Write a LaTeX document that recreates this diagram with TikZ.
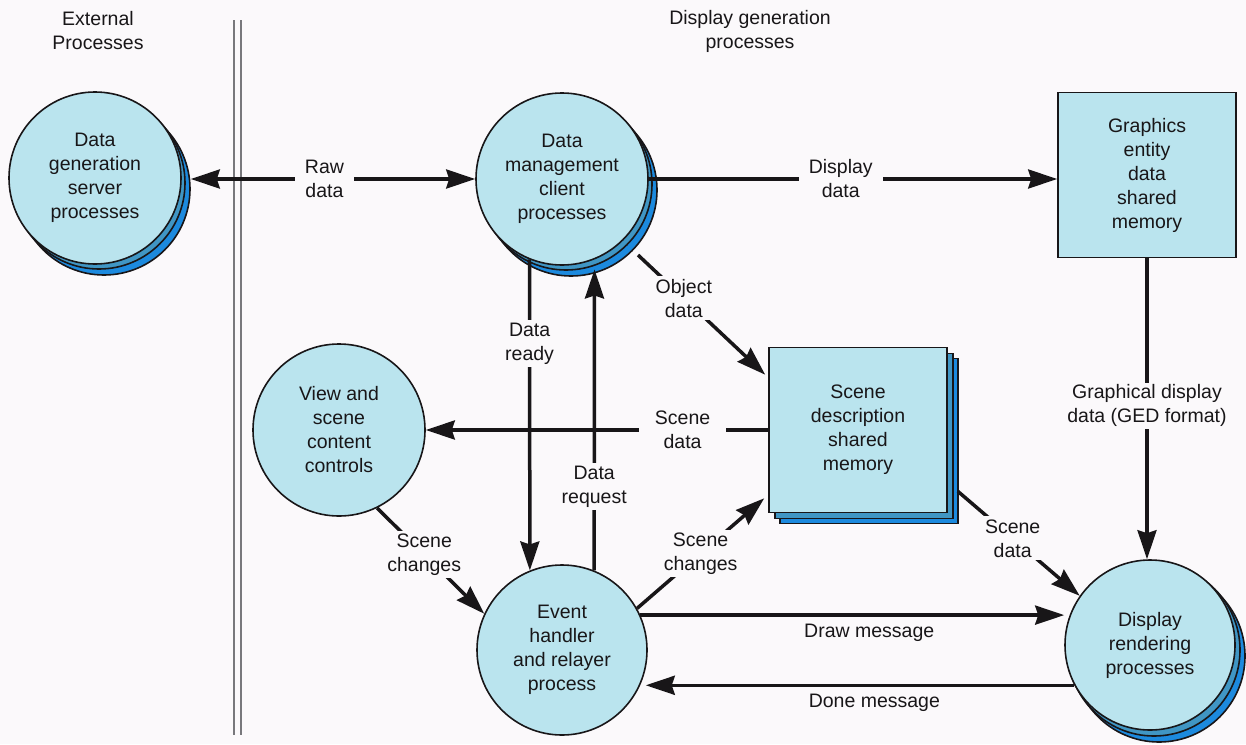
\documentclass[tikz,border=0pt]{standalone}
\usepackage{fontspec}
\setmainfont{Liberation Sans}
\usetikzlibrary{arrows.meta,calc}
\definecolor{bg}{RGB}{251,249,251}
\definecolor{front}{RGB}{186,228,238}
\definecolor{midl}{RGB}{64,150,196}
\definecolor{backl}{RGB}{28,138,222}
\definecolor{ink}{RGB}{24,22,24}
\definecolor{sep}{RGB}{120,120,124}
\begin{document}
\begin{tikzpicture}[x=1pt,y=-1pt,
  every node/.style={font=\fontsize{19.5}{24}\selectfont, text=ink, align=center},
  proc/.style={circle, draw=ink, line width=1.6pt, fill=front, minimum size=172pt, inner sep=0pt},
  lay2/.style={proc, fill=midl},
  lay3/.style={proc, fill=backl},
  mem/.style={rectangle, draw=ink, line width=1.6pt, fill=front, inner sep=0pt, minimum width=178pt, minimum height=165pt},
  mem2/.style={mem, fill=midl},
  mem3/.style={mem, fill=backl},
  arr/.style={draw=ink, line width=3.5pt, >={Stealth[length=29pt,width=19pt,inset=3pt]}, ->},
  lbl/.style={fill=bg, inner xsep=10pt, inner ysep=3pt},
  plain/.style={inner sep=2pt},
]
\fill[bg] (0,0) rectangle (1246,744);
\useasboundingbox (0,0) rectangle (1246,744);

% separator
\draw[sep, line width=1.3pt] (234,20) -- (234,735);
\draw[sep, line width=1.3pt] (241,20) -- (241,735);

% titles
\node[plain] (tExt) at (98,31) {External\\Processes};
\node[plain] (tDisp) at (750,31) {Display generation\\processes};

% data generation server
\node[lay3] (dgs3) at (104,189) {};
\node[lay2] (dgs2) at (99,183) {};
\node[proc] (dgs) at (95,178) {Data\\generation\\server\\processes};

% data management client
\node[lay3] (dmc3) at (571,190) {};
\node[lay2] (dmc2) at (566,184) {};
\node[proc] (dmc) at (562,179) {Data\\management\\client\\processes};

% graphics entity data shared memory
\node[mem] (ged) at (1147,175) {Graphics\\entity\\data\\shared\\memory};

% scene description shared memory
\node[mem3] (sdm3) at (869,441) {};
\node[mem2] (sdm2) at (864,436) {};
\node[mem] (sdm) at (858,430) {Scene\\description\\shared\\memory};

% view and scene content controls
\node[proc] (vsc) at (339,430) {View and\\scene\\content\\controls};

% event handler
\node[proc, minimum size=170pt] (ehr) at (562,650) {Event\\handler\\and relayer\\process};

% display rendering
\node[lay3] (drp3) at (1159,656) {};
\node[lay2] (drp2) at (1154,650) {};
\node[proc, minimum size=170pt] (drp) at (1150,645) {Display\\rendering\\processes};

% connectors
\draw[arr,<->] (dgs3.east |- dmc.west) -- node[lbl, pos=0.47]{Raw\\data} (dmc.west);
\draw[arr] (dmc.east) -- node[lbl, pos=0.47]{Display\\data} (dmc.east -| ged.west);
\draw[arr] (ged.south) -- node[lbl, inner xsep=4pt, inner ysep=2pt, pos=0.49]{Graphical display\\data (GED format)} (ged.south |- drp.north);
\draw[arr] ($(dmc.center)+(76,76)$) -- node[lbl, inner xsep=4pt, pos=0.36]{Object\\data} ($(sdm.north west)+(-3,28)$);
\draw[arr] (dmc.248) -- node[lbl, inner xsep=3pt, pos=0.27]{Data\\ready} (ehr.112);
\draw[arr, shorten >=10pt] (ehr.68) -- node[lbl, inner xsep=3pt, pos=0.27]{Data\\request} (dmc.292);
\draw[arr] (sdm.west) -- node[lbl, inner xsep=16pt, pos=0.25]{Scene\\data} (vsc.east);
\draw[arr] (vsc.-64) -- node[lbl, inner xsep=3pt, pos=0.44]{Scene\\changes} (ehr.155);
\draw[arr] (ehr.29) -- node[lbl, inner xsep=3pt, pos=0.5]{Scene\\changes} ($(sdm.south west)+(-4,-15)$);
\draw[arr] ($(sdm.south east)+(10,-22)$) -- node[lbl, inner xsep=3pt, pos=0.45]{Scene\\data} (drp.145);
\draw[arr] (ehr.24) -- node[plain, pos=0.54, below=5pt]{Draw message} (ehr.24 -| drp.west);
\draw[arr, shorten >=6pt] (drp.208) -- node[plain, pos=0.46, below=5pt]{Done message} (drp.208 -| ehr.-25);
\end{tikzpicture}
\end{document}
